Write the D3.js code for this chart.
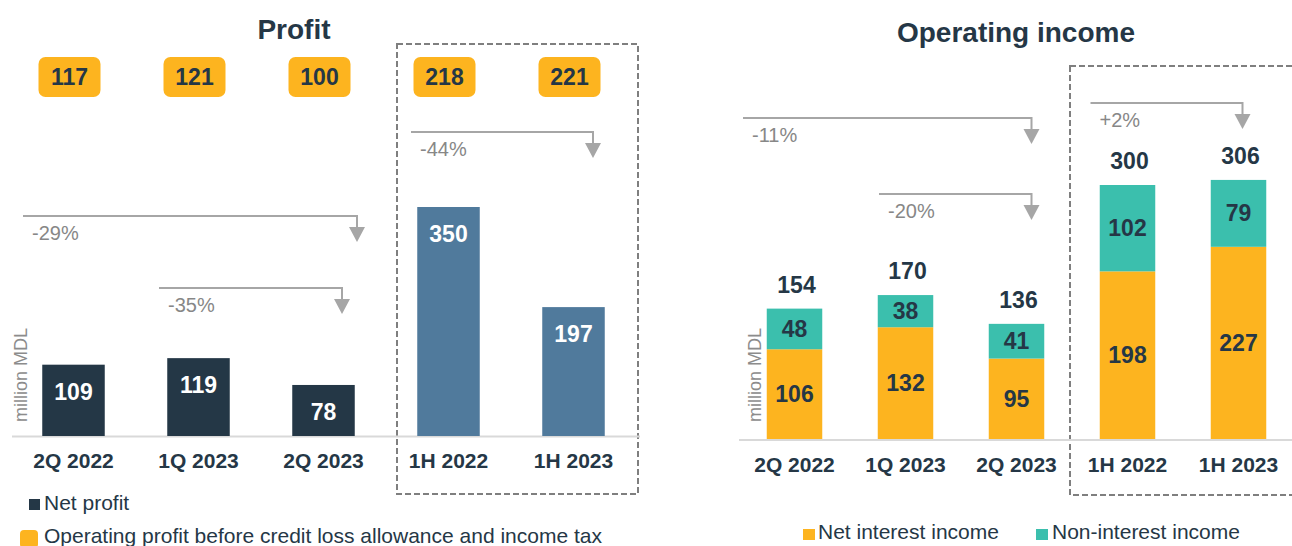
<!DOCTYPE html>
<html>
<head>
<meta charset="utf-8">
<script src="https://cdn.jsdelivr.net/npm/d3@7"></script>
<style>
  html, body { margin: 0; padding: 0; background: #fff; }
  svg { display: block; font-family: "Liberation Sans", Arial, sans-serif; }
</style>
</head>
<body>
<svg id="chart" width="1292" height="546"></svg>
<script>
// --- data (million MDL)
var categories = ['2Q 2022', '1Q 2023', '2Q 2023', '1H 2022', '1H 2023'];
var netProfit = [109, 119, 78, 350, 197];
var operatingProfit = [117, 121, 100, 218, 221];
var netInterest = [106, 132, 95, 198, 227];
var nonInterest = [48, 38, 41, 102, 79];

var profitChanges = [
  {from: '2Q 2022', to: '2Q 2023', text: '-29%'},
  {from: '1Q 2023', to: '2Q 2023', text: '-35%'},
  {from: '1H 2022', to: '1H 2023', text: '-44%'}
];
var incomeChanges = [
  {from: '2Q 2022', to: '2Q 2023', text: '-11%'},
  {from: '1Q 2023', to: '2Q 2023', text: '-20%'},
  {from: '1H 2022', to: '1H 2023', text: '+2%'}
];

// colours
var navy = '#243746', steel = '#507a9c', orange = '#fdb41f', teal = '#3bbfad';
var textDark = '#253746', grey = '#a6a6a6', greyText = '#878787';

var svg = d3.select('#chart');

// ---------- layout for the two panels
var profitX = d3.scaleBand().domain(categories).range([11, 636]).paddingInner(0.5).paddingOuter(0.25);
var profitY = d3.scaleLinear().domain([0, 350]).range([436, 207]);

var incomeX = d3.scaleBand().domain(categories).range([739, 1294]).paddingInner(0.5).paddingOuter(0.25);
var incomeY = d3.scaleLinear().domain([0, 300]).range([439, 185]);

// arrow geometry (annotation layout, not data)
var profitArrowLayout = [{y: 216, dx0: -50.5, dx1: 33.5}, {y: 288, dx0: -39.5, dx1: 18.5}, {y: 132, dx0: -37.5, dx1: 19.5}];
var incomeArrowLayout = [{y: 118, dx0: -51.5, dx1: 15}, {y: 194, dx0: -26.5, dx1: 15}, {y: 103, dx0: -37, dx1: 4}];

// ---------- titles
svg.append('text').attr('x', 294).attr('y', 39).attr('text-anchor', 'middle')
  .attr('font-size', 28).attr('font-weight', 'bold').attr('fill', textDark).text('Profit');
svg.append('text').attr('x', 1016).attr('y', 42).attr('text-anchor', 'middle')
  .attr('font-size', 28).attr('font-weight', 'bold').attr('fill', textDark).text('Operating income');

// ---------- dashed boxes round the half-year bars
svg.append('rect').attr('x', 397).attr('y', 44).attr('width', 241).attr('height', 450)
  .attr('fill', 'none').attr('stroke', '#7f7f7f').attr('stroke-width', 2).attr('stroke-dasharray', '6,3');
svg.append('rect').attr('x', 1070).attr('y', 66).attr('width', 240).attr('height', 429)
  .attr('fill', 'none').attr('stroke', '#7f7f7f').attr('stroke-width', 2).attr('stroke-dasharray', '6,3');

// ---------- baselines
svg.append('line').attr('x1', 12).attr('x2', 640).attr('y1', 436.5).attr('y2', 436.5)
  .attr('stroke', '#d9d9d9').attr('stroke-width', 2);
svg.append('line').attr('x1', 739).attr('x2', 1292).attr('y1', 440).attr('y2', 440)
  .attr('stroke', '#d9d9d9').attr('stroke-width', 2);

// ---------- profit bars
var pg = svg.append('g');
pg.selectAll('rect.np').data(netProfit).enter().append('rect').attr('class', 'np')
  .attr('x', (d, i) => profitX(categories[i]))
  .attr('width', profitX.bandwidth())
  .attr('y', d => profitY(d))
  .attr('height', d => profitY(0) - profitY(d))
  .attr('fill', (d, i) => i < 3 ? navy : steel);

pg.selectAll('text.np').data(netProfit).enter().append('text').attr('class', 'np')
  .attr('x', (d, i) => profitX(categories[i]) + profitX.bandwidth() / 2)
  .attr('y', d => profitY(d) + 35)
  .attr('text-anchor', 'middle').attr('font-size', 23).attr('font-weight', 'bold')
  .attr('fill', '#fff').text(d => d);

// orange boxes with operating profit
var boxes = pg.selectAll('g.op').data(operatingProfit).enter().append('g').attr('class', 'op')
  .attr('transform', (d, i) => 'translate(' + (profitX(categories[i]) + profitX.bandwidth() / 2 - 4) + ',77)');
boxes.append('rect').attr('x', -31).attr('y', -20).attr('width', 62).attr('height', 40)
  .attr('rx', 7).attr('fill', orange);
boxes.append('text').attr('y', 8).attr('text-anchor', 'middle').attr('font-size', 23)
  .attr('font-weight', 'bold').attr('fill', textDark).text(d => d);

// category axis
var profitAxis = svg.append('g').attr('transform', 'translate(0,450)')
  .call(d3.axisBottom(profitX).tickSize(0).tickPadding(0));
profitAxis.select('.domain').remove();
profitAxis.selectAll('text').attr('font-size', 21).attr('font-weight', 'bold')
  .attr('fill', textDark).attr('font-family', null).attr('dy', 0).attr('y', 18);

// ---------- operating income stacked bars
var stack = categories.map((c, i) => ({cat: c, nii: netInterest[i], non: nonInterest[i], total: netInterest[i] + nonInterest[i]}));
var ig = svg.append('g');
ig.selectAll('rect.nii').data(stack).enter().append('rect').attr('class', 'nii')
  .attr('x', d => incomeX(d.cat)).attr('width', incomeX.bandwidth())
  .attr('y', d => incomeY(d.nii)).attr('height', d => incomeY(0) - incomeY(d.nii))
  .attr('fill', orange);
ig.selectAll('rect.non').data(stack).enter().append('rect').attr('class', 'non')
  .attr('x', d => incomeX(d.cat)).attr('width', incomeX.bandwidth())
  .attr('y', d => incomeY(d.total)).attr('height', d => incomeY(d.nii) - incomeY(d.total))
  .attr('fill', teal);

ig.selectAll('text.nii').data(stack).enter().append('text').attr('class', 'nii')
  .attr('x', d => incomeX(d.cat) + incomeX.bandwidth() / 2)
  .attr('y', d => (incomeY(0) + incomeY(d.nii)) / 2 + 8)
  .attr('text-anchor', 'middle').attr('font-size', 23).attr('font-weight', 'bold')
  .attr('fill', textDark).text(d => d.nii);
ig.selectAll('text.non').data(stack).enter().append('text').attr('class', 'non')
  .attr('x', d => incomeX(d.cat) + incomeX.bandwidth() / 2)
  .attr('y', d => (incomeY(d.nii) + incomeY(d.total)) / 2 + 8)
  .attr('text-anchor', 'middle').attr('font-size', 23).attr('font-weight', 'bold')
  .attr('fill', textDark).text(d => d.non);
ig.selectAll('text.tot').data(stack).enter().append('text').attr('class', 'tot')
  .attr('x', d => incomeX(d.cat) + incomeX.bandwidth() / 2 + 2)
  .attr('y', d => incomeY(d.total) - 16)
  .attr('text-anchor', 'middle').attr('font-size', 23).attr('font-weight', 'bold')
  .attr('fill', textDark).text(d => d.total);

var incomeAxis = svg.append('g').attr('transform', 'translate(0,454)')
  .call(d3.axisBottom(incomeX).tickSize(0).tickPadding(0));
incomeAxis.select('.domain').remove();
incomeAxis.selectAll('text').attr('font-size', 21).attr('font-weight', 'bold')
  .attr('fill', textDark).attr('font-family', null).attr('dy', 0).attr('y', 18);

// ---------- change arrows
function drawArrows(changes, layout, x) {
  var g = svg.append('g');
  changes.forEach(function(c, i) {
    var l = layout[i];
    var x0 = x(c.from) + x.bandwidth() / 2 + l.dx0;
    var x1 = x(c.to) + x.bandwidth() / 2 + l.dx1;
    g.append('path').attr('d', 'M' + x0 + ',' + l.y + 'H' + x1 + 'V' + (l.y + 12))
      .attr('fill', 'none').attr('stroke', grey).attr('stroke-width', 2);
    g.append('path').attr('d', 'M' + (x1 - 8) + ',' + (l.y + 11) + 'L' + (x1 + 8) + ',' + (l.y + 11) + 'L' + x1 + ',' + (l.y + 26) + 'Z')
      .attr('fill', grey);
    g.append('text').attr('x', x0 + 9).attr('y', l.y + 24).attr('font-size', 20)
      .attr('fill', greyText).text(c.text);
  });
}
drawArrows(profitChanges, profitArrowLayout, profitX);
drawArrows(incomeChanges, incomeArrowLayout, incomeX);

// ---------- unit labels
svg.append('text').attr('transform', 'translate(27,375) rotate(-90)').attr('text-anchor', 'middle')
  .attr('font-size', 18).attr('fill', '#8c8c8c').text('million MDL');
svg.append('text').attr('transform', 'translate(761,375) rotate(-90)').attr('text-anchor', 'middle')
  .attr('font-size', 18).attr('fill', '#8c8c8c').text('million MDL');

// ---------- legends
svg.append('rect').attr('x', 29).attr('y', 499).attr('width', 11).attr('height', 11).attr('fill', navy);
svg.append('text').attr('x', 44).attr('y', 510).attr('font-size', 21).attr('fill', textDark).text('Net profit');
svg.append('rect').attr('x', 20).attr('y', 530).attr('width', 18).attr('height', 18).attr('rx', 4).attr('fill', orange);
svg.append('text').attr('x', 44).attr('y', 543).attr('font-size', 21).attr('fill', textDark)
  .text('Operating profit before credit loss allowance and income tax');

svg.append('rect').attr('x', 803).attr('y', 529).attr('width', 12).attr('height', 11).attr('fill', orange);
svg.append('text').attr('x', 818).attr('y', 539).attr('font-size', 21).attr('fill', textDark).text('Net interest income');
svg.append('rect').attr('x', 1036).attr('y', 529).attr('width', 12).attr('height', 11).attr('fill', teal);
svg.append('text').attr('x', 1052).attr('y', 539).attr('font-size', 21).attr('fill', textDark).text('Non-interest income');
</script>
</body>
</html>
